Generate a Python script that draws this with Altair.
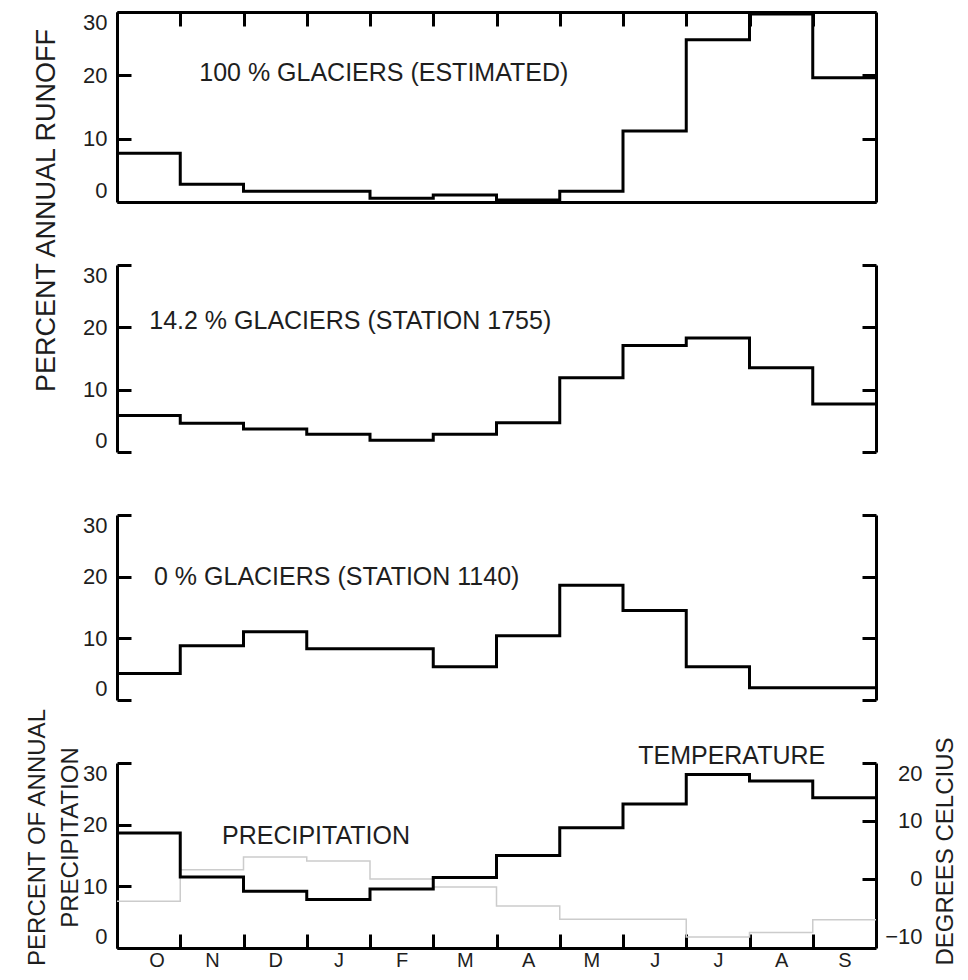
import json
import altair as alt
import pandas as pd

# ---------------- data ----------------
months = ["O", "N", "D", "J", "F", "M", "A", "M", "J", "J", "A", "S"]
runoff_100 = [7.7, 2.8, 1.7, 1.7, 0.6, 1.1, 0.3, 1.7, 11.2, 25.6, 29.7, 19.6]
runoff_14 = [5.85, 4.6, 3.7, 2.85, 1.9, 2.85, 4.7, 11.9, 17.1, 18.3, 13.5, 7.7]
runoff_0 = [4.3, 8.8, 11.05, 8.3, 8.3, 5.4, 10.4, 18.6, 14.5, 5.4, 2.0, 2.0]
precipitation = [7.6, 12.7, 14.75, 14.1, 11.2, 9.9, 6.8, 4.65, 4.65, 1.8, 2.5, 4.6]
temperature = [7.9, 0.3, -2.2, -3.6, -1.8, 0.2, 4.0, 8.8, 12.9, 18.0, 16.9, 14.0]
pct_ticks = [0, 10, 20, 30]
temp_ticks = [-10, 0, 10, 20]
month_bounds = list(range(12))

FONT = "Liberation Sans"
INK = "#1e1e1e"
W = 759
MW = W / 12.0
TICK_LEN = 14
TICK = alt.ExprRef(expr=str(-TICK_LEN))
NOVIEW = alt.ViewBackground(stroke="transparent", strokeOpacity=0, strokeWidth=0)

XS = alt.Scale(domain=[0, 12], nice=False, zero=False)
PS = alt.Scale(domain=[0, 30], nice=False, zero=False)
TS = alt.Scale(domain=[-12, 20], nice=False, zero=False)


def step_df(values):
    return pd.DataFrame({"m": list(range(13)), "v": values + [values[-1]]})


def text_layer(text, x, y, ydomain=(0, 30), size=25):
    return alt.Chart(pd.DataFrame({"t": [text]})).mark_text(
        align="left", baseline="middle", font=FONT, fontSize=size, color=INK
    ).encode(
        x=alt.XDatum(x, type="quantitative", scale=XS, axis=None),
        y=alt.YDatum(y, type="quantitative",
                     scale=alt.Scale(domain=list(ydomain), nice=False, zero=False), axis=None),
        text="t:N",
    )


def left_axis(title=None, title_x=-63, title_y=90, line_height=33, title_size=25):
    kw = dict(
        orient="left", values=pct_ticks, domain=True, ticks=True, labels=True,
        tickSize=TICK, tickWidth=3, tickColor="black",
        domainColor="black", domainWidth=3, labelFont=FONT, labelFontSize=22,
        labelColor=INK, labelPadding=10 + TICK_LEN, labelFlush=True, grid=False,
    )
    if title is None:
        kw["title"] = None
    else:
        kw.update(title=title, titleFont=FONT, titleFontSize=title_size, titleFontWeight="normal",
                  titleColor=INK, titleAngle=270, titleX=title_x, titleY=title_y,
                  titleAlign="center", titleBaseline="alphabetic",
                  titleLineHeight=line_height)
    return alt.Axis(**kw)


def right_axis_plain():
    return alt.Axis(orient="right", values=pct_ticks, domain=True, ticks=True, labels=False,
                    tickSize=TICK, tickWidth=3, tickColor="black", domainColor="black",
                    domainWidth=3, grid=False, title=None)


def bottom_plain():
    return alt.Axis(orient="bottom", domain=True, ticks=False, labels=False, grid=False,
                    domainColor="black", domainWidth=3, title=None)


def runoff_panel(values, label, lx, ly, h, boxed=False, ytitle=None):
    df = step_df(values)
    yax = left_axis(ytitle, title_x=-63, title_y=198, title_size=27) if ytitle else left_axis()
    main = alt.Chart(df).mark_line(interpolate="step-after", color="black", strokeWidth=3).encode(
        x=alt.X("m:Q", scale=XS, axis=bottom_plain()),
        y=alt.Y("v:Q", scale=PS, axis=yax),
    )
    if boxed:
        right = alt.Chart(df).mark_line(interpolate="step-after", strokeOpacity=0).encode(
            x=alt.X("m:Q", scale=XS,
                    axis=alt.Axis(orient="top", values=month_bounds, domain=True, ticks=True,
                                  labels=False, tickSize=TICK, tickWidth=3,
                                  tickColor="black", domainColor="black", domainWidth=3,
                                  grid=False, title=None)),
            y=alt.Y("v:Q", scale=PS, axis=right_axis_plain()),
        )
        lay = alt.layer(main, right, text_layer(label, lx, ly)).resolve_axis(
            x="independent", y="independent")
    else:
        right = alt.Chart(df).mark_line(interpolate="step-after", strokeOpacity=0).encode(
            x=alt.X("m:Q", scale=XS, axis=bottom_plain()),
            y=alt.Y("v:Q", scale=PS, axis=right_axis_plain()),
        )
        lay = alt.layer(main, right, text_layer(label, lx, ly)).resolve_axis(y="independent")
    return lay.properties(width=W, height=h, view=NOVIEW)


p1 = runoff_panel(runoff_100, "100 % GLACIERS (ESTIMATED)", 1.30, 20.3, 190, boxed=True,
                  ytitle="PERCENT ANNUAL RUNOFF")
p2 = runoff_panel(runoff_14, "14.2 % GLACIERS (STATION 1755)", 0.51, 21.0, 187)
p3 = runoff_panel(runoff_0, "0 % GLACIERS (STATION 1140)", 0.585, 20.0, 185)

# ---------------- bottom panel ----------------
label_expr = json.dumps(months) + "[datum.value]"
bottom_axis = alt.Axis(orient="bottom", values=month_bounds, domain=True, ticks=True,
                       labels=True, tickSize=TICK, tickWidth=3,
                       tickColor="black", domainColor="black", domainWidth=3,
                       labelExpr=label_expr, labelOffset=MW / 2, labelFont=FONT,
                       labelFontSize=20, labelColor=INK, labelPadding=32,
                       labelBaseline="alphabetic", grid=False, title=None)

prec = alt.Chart(step_df(precipitation)).mark_line(
    interpolate="step-after", color="#cccccc", strokeWidth=1.5).encode(
    x=alt.X("m:Q", scale=XS, axis=bottom_axis),
    y=alt.Y("v:Q", scale=PS, axis=left_axis(["PERCENT OF ANNUAL", "PRECIPITATION"],
                                            title_x=-73, title_y=74, title_size=24)),
)
temp_axis = alt.Axis(orient="right", values=temp_ticks, domain=True, ticks=True, labels=True,
                     tickSize=TICK, tickWidth=3,
                     tickColor="black", domainColor="black", domainWidth=3,
                     tickOpacity={"condition": {"test": "datum.value == -10", "value": 0}, "value": 1},
                     labelFont=FONT, labelFontSize=22, labelColor=INK, labelAlign="right",
                     labelPadding=46 + TICK_LEN, labelFlush=True, grid=False,
                     title="DEGREES CELCIUS", titleFont=FONT, titleFontSize=24,
                     titleFontWeight="normal", titleColor=INK, titleAngle=270, titleX=76,
                     titleY=88, titleAlign="center", titleBaseline="alphabetic")
temp = alt.Chart(step_df(temperature)).mark_line(
    interpolate="step-after", color="black", strokeWidth=3).encode(
    x=alt.X("m:Q", scale=XS, axis=None),
    y=alt.Y("v:Q", scale=TS, axis=temp_axis),
)
p4 = alt.layer(
    prec, temp,
    text_layer("PRECIPITATION", 1.66, 18.2),
    text_layer("TEMPERATURE", 8.24, 31.1),
).resolve_scale(y="independent").resolve_axis(x="independent", y="independent").properties(
    width=W, height=185, view=NOVIEW)

chart = alt.vconcat(p1, p2, p3, p4, spacing=63, bounds="flush").properties(
    padding={"left": 17, "top": -1, "right": 0, "bottom": 0}
).configure_view(stroke="transparent", strokeOpacity=0, strokeWidth=0).configure_axis(
    grid=False, domain=False, ticks=False, labels=False).configure(font=FONT)

chart.save("out.html", embed_options={"renderer": "svg", "actions": False})
